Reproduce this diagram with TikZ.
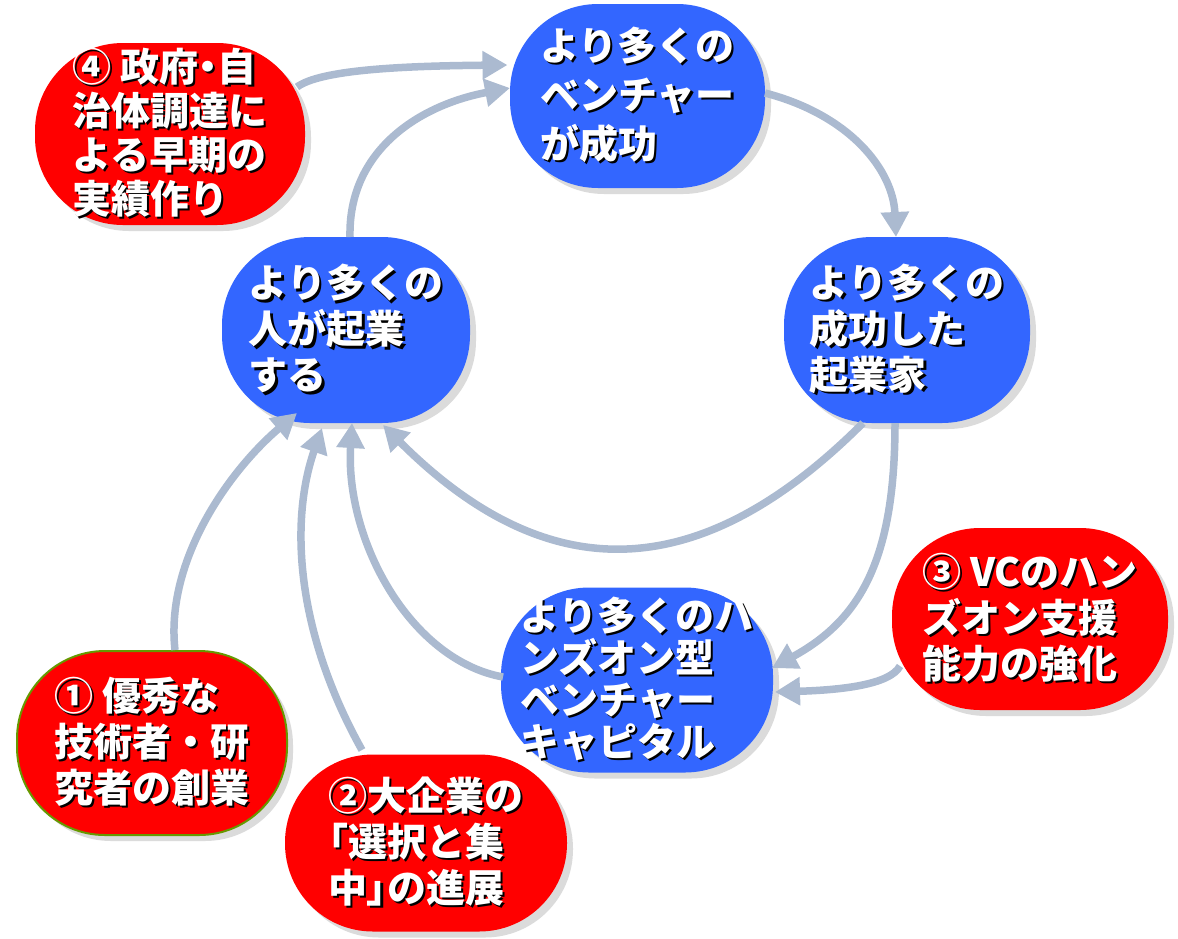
\documentclass[tikz,border=0pt]{standalone}
\usepackage{fontspec}
\newfontfamily\jp{Noto Sans CJK JP}
\usetikzlibrary{arrows.meta,shadows}
\definecolor{nblue}{RGB}{51,102,255}
\definecolor{nred}{RGB}{255,0,0}
\definecolor{arrc}{RGB}{171,186,208}
\definecolor{ngreen}{RGB}{102,153,0}
\newcommand{\sh}[1]{\makebox[0pt][l]{\kern2.2pt\raisebox{-2.2pt}{\color{black}#1}}#1}
\newcommand{\pa}[1]{{\addfontfeatures{RawFeature=+palt}#1}}
\begin{document}
\begin{tikzpicture}[x=1pt,y=-1pt,
  bub/.style={rounded corners=88pt, inner sep=0pt, align=left, text=white,
    font=\jp\bfseries\fontsize{39}{46}\selectfont,
    drop shadow={shadow xshift=6pt,shadow yshift=-6pt,fill=black!14,opacity=1}},
  bluebub/.style={bub, fill=nblue},
  redbub/.style={bub, fill=nred},
  arr/.style={draw=arrc, line width=7.5pt, -{Triangle[length=25pt,width=27pt]}}
]
\useasboundingbox (0,0) rectangle (1178,938);

\node[bluebub, minimum width=255pt, minimum height=184pt,
  font=\jp\bfseries\fontsize{39}{49}\selectfont] (nV) at (637.5,96)
  {\sh{より多くの}\\\sh{ベンチャー}\\\sh{が成功}};
\node[bluebub, minimum width=248pt, minimum height=186pt] (nP) at (346,330)
  {\sh{より多くの}\\\sh{人が起業}\\\sh{する}};
\node[bluebub, minimum width=246pt, minimum height=186pt] (nS) at (907,330)
  {\sh{より多くの}\\\sh{成功した}\\\sh{起業家}};
\node[bluebub, minimum width=272pt, minimum height=185pt,
  font=\jp\bfseries\fontsize{39}{42}\selectfont] (nH) at (637,680)
  {\sh{より多くのハ}\\\sh{ンズオン型}\\\sh{ベンチャー}\\\sh{キャピタル}};

\node[redbub, minimum width=270pt, minimum height=182pt,
  font=\jp\bfseries\fontsize{39}{44}\selectfont] (n4) at (170,134)
  {\sh{④ 政府\pa{・}自}\\\sh{治体調達に}\\\sh{よる早期の}\\\sh{実績作り}};
\node[redbub, draw=ngreen, line width=2pt, minimum width=270pt, minimum height=184pt] (n1) at (152,743)
  {\sh{① 優秀な}\\\sh{技術者・研}\\\sh{究者の創業}};
\node[redbub, minimum width=282pt, minimum height=177pt] (n2) at (426,843)
  {\sh{②大企業の}\\\sh{\pa{「}選択と集}\\\sh{中\pa{」}の進展}};
\node[redbub, minimum width=276pt, minimum height=182pt] (n3) at (1030,619)
  {\sh{③ VCのハン}\\\sh{ズオン支援}\\\sh{能力の強化}};

\draw[arr] ([shift={(127,-47)}]n4.center) .. controls +(23,-17) and +(-108,1) .. ([shift={(-130,-31)}]nV.center);
\draw[arr] ([shift={(4,-93)}]nP.center) .. controls +(-2,-87) and +(-90,17) .. ([shift={(-127.5,-8)}]nV.center);
\draw[arr] ([shift={(127.5,-3)}]nV.center) .. controls +(85,22) and +(-3,-67) .. ([shift={(-11,-93)}]nS.center);
\draw[arr] ([shift={(-44,93)}]nS.center) .. controls +(-164,164) and +(164,164) .. ([shift={(37,95)}]nP.center);
\draw[arr] ([shift={(-12,93)}]nS.center) .. controls +(0,137) and +(88,-48) .. ([shift={(135,-12)}]nH.center);
\draw[arr] ([shift={(-130,47)}]n3.center) .. controls +(-10,19) and +(65,-2) .. ([shift={(138,12)}]nH.center);
\draw[arr] ([shift={(-134,-3)}]nH.center) .. controls +(-93,-17) and +(-7,117) .. ([shift={(6,93)}]nP.center);
\draw[arr] ([shift={(23,-93)}]n1.center) .. controls +(-10,-90) and +(-67,57) .. ([shift={(-49,83)}]nP.center);
\draw[arr] ([shift={(-64,-93)}]n2.center) .. controls +(-67,-120) and +(-32,92) .. ([shift={(-24,98)}]nP.center);
\end{tikzpicture}
\end{document}
